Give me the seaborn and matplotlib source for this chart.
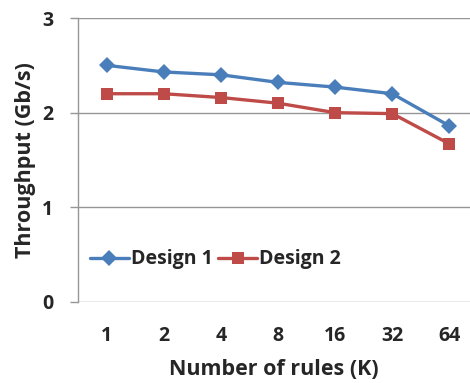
import pandas as pd
import matplotlib
matplotlib.use('Agg')
import matplotlib.pyplot as plt
import seaborn as sns

# Data
rules = ['1', '2', '4', '8', '16', '32', '64']
design1 = [2.50, 2.43, 2.40, 2.32, 2.27, 2.20, 1.86]
design2 = [2.20, 2.20, 2.16, 2.10, 2.00, 1.99, 1.67]
series_names = ['Design 1', 'Design 2']
colors = ['#4A7EBB', '#BE4B48']

df = pd.DataFrame({
    'rules': rules * 2,
    'tput': design1 + design2,
    'design': [series_names[0]] * len(rules) + [series_names[1]] * len(rules),
})

sns.set_theme(style='white')
plt.rcParams['font.family'] = ['Open Sans', 'DejaVu Sans']

fig = plt.figure(figsize=(4.7, 3.83), dpi=100)
ax = fig.add_axes([0.166, 0.2115, 0.834, 0.7415])

sns.lineplot(data=df, x='rules', y='tput', hue='design', style='design',
             markers={'Design 1': 'D', 'Design 2': 's'}, dashes=False,
             palette=dict(zip(series_names, colors)), linewidth=2.4,
             markersize=8, markeredgewidth=0, ax=ax)

ax.set_ylim(0, 3)
ax.set_yticks([0, 1, 2, 3])
ax.set_xlim(-0.5, 6.36)
ax.grid(axis='y', color='#969696', linewidth=1)
ax.grid(axis='x', visible=False)
for side in ['top', 'right', 'bottom']:
    ax.spines[side].set_visible(False)
ax.spines['left'].set_color('#969696')
ax.spines['left'].set_linewidth(1)
ax.set_axisbelow(True)

ax.tick_params(axis='y', which='both', left=True, length=6, width=1, color='#969696',
               pad=12, labelsize=14)
ax.tick_params(axis='x', bottom=False, pad=11, labelsize=14)
for lab in ax.get_xticklabels() + ax.get_yticklabels():
    lab.set_fontweight('bold')

ax.set_xlabel('Number of rules (K)', fontsize=15.5, fontweight='bold', labelpad=10)
ax.set_ylabel('Throughput (Gb/s)', fontsize=15.5, fontweight='bold', labelpad=4)

leg = ax.legend(loc='center left', bbox_to_anchor=(0.0, 0.15), frameon=False,
                ncol=2, fontsize=14, handlelength=2.0, handletextpad=0.1,
                columnspacing=0.3, borderaxespad=0.2)
for t in leg.get_texts():
    t.set_fontweight('bold')

fig.savefig('out.png', dpi=100)
